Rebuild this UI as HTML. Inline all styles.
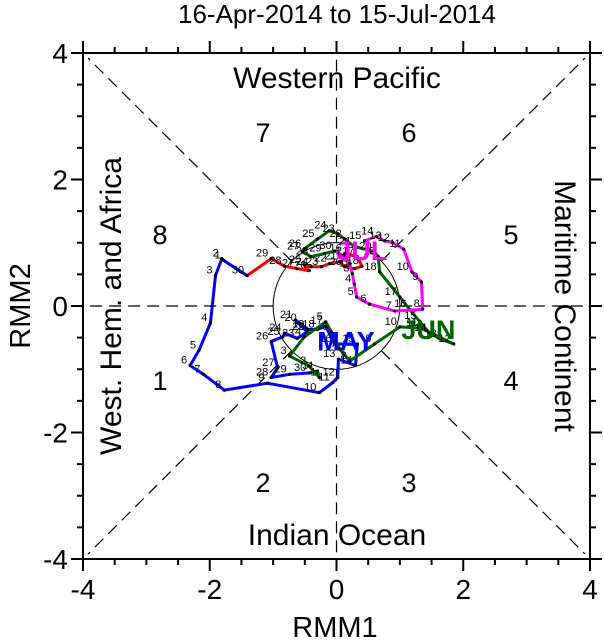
<!DOCTYPE html>
<html><head><meta charset="utf-8"><style>
body{margin:0;background:#fff}
svg{display:block;font-family:"Liberation Sans",sans-serif}
</style></head><body>
<svg id="chart" width="604" height="640" viewBox="0 0 604 640" xmlns="http://www.w3.org/2000/svg">
<text x="337" y="23" font-size="26" text-anchor="middle">16-Apr-2014 to 15-Jul-2014</text>
<g id="guides"></g>
<g id="axes"></g>
<g id="series"></g>
<g font-size="27" text-anchor="middle">
<text x="263" y="142">7</text>
<text x="409" y="142">6</text>
<text x="160" y="244">8</text>
<text x="511" y="244">5</text>
<text x="160" y="390">1</text>
<text x="511" y="390">4</text>
<text x="263" y="492">2</text>
<text x="409" y="492">3</text>
</g>
<g font-size="30" text-anchor="middle">
<text x="337" y="88">Western Pacific</text>
<text x="337" y="545">Indian Ocean</text>
<text transform="translate(121,306) rotate(-90)">West. Hem. and Africa</text>
<text transform="translate(555,306) rotate(90)">Maritime Continent</text>
</g>
<text x="335" y="637" font-size="29" text-anchor="middle">RMM1</text>
<text transform="translate(30,306) rotate(-90)" font-size="29" text-anchor="middle">RMM2</text>
</svg>
<script>
const aprDays=[16,17,18,19,20,21,22,23,24,25,26,27,28,29,30];
const aprX=[0.13,0.33,0.40,0.28,0.13,0.05,-0.11,-0.24,-0.40,-0.51,-0.43,-0.62,-0.82,-1.03,-1.41];
const aprY=[0.83,0.78,0.63,0.59,0.62,0.70,0.67,0.62,0.62,0.65,0.56,0.59,0.63,0.75,0.48];
const mayX=[-1.78,-1.81,-1.91,-1.99,-2.17,-2.31,-2.10,-1.77,-1.09,-0.27,-0.06,0.02,0.03,0.30,0.33,-0.03,-0.17,-0.30,-0.46,-0.58,-0.65,-0.46,-0.62,-0.82,-0.85,-1.03,-0.93,-1.03,-0.74,-0.43,-0.30];
const mayY=[0.72,0.75,0.48,-0.27,-0.70,-0.94,-1.08,-1.33,-1.22,-1.37,-1.21,-1.13,-0.84,-0.94,-0.60,-0.60,-0.32,-0.37,-0.37,-0.27,-0.22,-0.41,-0.51,-0.43,-0.49,-0.56,-0.98,-1.13,-1.08,-1.06,-1.03];
const junX=[-0.27,-0.43,-0.74,-0.51,-0.17,-0.08,0.05,0.21,0.60,1.00,1.33,1.85,1.63,1.47,1.31,1.15,1.00,0.68,0.66,0.60,0.28,0.13,0.02,-0.11,-0.30,-0.51,-0.54,-0.40,-0.19,-0.03];
const junY=[-1.13,-0.95,-0.79,-0.49,-0.25,-0.41,-0.68,-0.87,-0.60,-0.33,-0.35,-0.60,-0.52,-0.43,-0.24,-0.05,0.14,0.54,0.78,0.86,0.94,1.06,1.14,1.19,1.06,0.90,0.86,0.78,0.83,0.87];
const julX=[0.13,0.21,0.25,0.28,0.32,0.52,0.92,1.36,1.34,1.19,1.06,0.89,0.76,0.63,0.44];
const julY=[0.78,0.67,0.51,0.35,0.14,0.03,-0.08,-0.05,0.38,0.54,0.90,1.00,1.03,1.10,1.03];
const tickVals=[-4,-2,0,2,4];
const tickLabels=["-4","-2","0","2","4"];

const NS="http://www.w3.org/2000/svg";
const X0=83,X1=590,Y0=53,Y1=559;
const sx=v=>X0+(v+4)/8*(X1-X0);
const sy=v=>Y1-(v+4)/8*(Y1-Y0);
function mk(tag,at,parent){const e=document.createElementNS(NS,tag);for(const k in at)e.setAttribute(k,at[k]);parent.appendChild(e);return e;}
const guides=document.getElementById('guides'),axes=document.getElementById('axes'),series=document.getElementById('series');

let c=mk('circle',{cx:sx(0),cy:sy(0),r:sx(1)-sx(0),fill:'none',stroke:'#000','stroke-width':1},guides);


const dirs=[[1,0],[-1,0],[0,1],[0,-1],[1,1],[1,-1],[-1,1],[-1,-1]];
dirs.forEach(d=>{
  const n=Math.hypot(d[0],d[1]);
  const l=mk('line',{x1:sx(d[0]/n),y1:sy(d[1]/n),x2:sx(d[0]*3.92),y2:sy(d[1]*3.92),stroke:'#000','stroke-width':1.2,'stroke-dasharray':'12,7'},guides);
  
  
});

let fr=mk('rect',{x:X0,y:Y0,width:X1-X0,height:Y1-Y0,fill:'none',stroke:'#000','stroke-width':2},axes);


for(let v=-4;v<=4.001;v+=0.5){
  const major=Math.abs(v-Math.round(v/2)*2)<1e-6;
  const L=major?12:6;
  const x=sx(v),y=sy(v);
  [[x,Y1,x,Y1+L],[x,Y0,x,Y0-L],[X0,y,X0-L,y],[X1,y,X1+L,y]].forEach(p=>{
    const t=mk('line',{x1:p[0],y1:p[1],x2:p[2],y2:p[3],stroke:'#000','stroke-width':2},axes);
    
    
  });
}
tickVals.forEach((v,i)=>{
  let t=mk('text',{x:sx(v),y:Y1+40,'font-size':28,'text-anchor':'middle'},axes);
  t.textContent=tickLabels[i];
  
  
  t=mk('text',{x:X0-15,y:sy(v)+10,'font-size':28,'text-anchor':'end'},axes);
  t.textContent=tickLabels[i];
  
  
});

function drawSeries(xs,ys,days,color,name,start){
  const pts=xs.map((x,i)=>sx(x).toFixed(1)+','+sy(ys[i]).toFixed(1)).join(' ');
  const pl=mk('polyline',{points:pts,fill:'none',stroke:color,'stroke-width':3,'stroke-linejoin':'round'},series);
  
  
  xs.forEach((x,i)=>{
    const d=mk('circle',{cx:sx(x),cy:sy(ys[i]),r:1.6,fill:'#000'},series);
    
    
    const t=mk('text',{x:sx(x)-3,y:sy(ys[i])-2,'font-size':11,'text-anchor':'end'},series);
    t.textContent=days?days[i]:(start+i);
    
    
  });
}
function link(x1,y1,x2,y2,color){const l=mk('line',{x1:sx(x1),y1:sy(y1),x2:sx(x2),y2:sy(y2),stroke:color,'stroke-width':3},series);

}
link(aprX[14],aprY[14],mayX[0],mayY[0],'#0000ff');
link(mayX[30],mayY[30],junX[0],junY[0],'#006400');
link(junX[29],junY[29],julX[0],julY[0],'#ff00ff');
drawSeries(aprX,aprY,aprDays,'#ff0000','april',16);
drawSeries(mayX,mayY,null,'#0000ff','may',1);
drawSeries(junX,junY,null,'#006400','june',1);
drawSeries(julX,julY,null,'#ff00ff','july',1);
[['MAY',0.15,-0.7,'#0000ff','may-label'],['JUN',1.45,-0.52,'#006400','june-label'],['JUL',0.4,0.73,'#ff00ff','july-label']].forEach(m=>{
  const t=mk('text',{x:sx(m[1]),y:sy(m[2]),'font-size':27,'font-weight':'bold',fill:m[3],'text-anchor':'middle'},series);
  t.textContent=m[0];
  
  
});
</script>
</body></html>
